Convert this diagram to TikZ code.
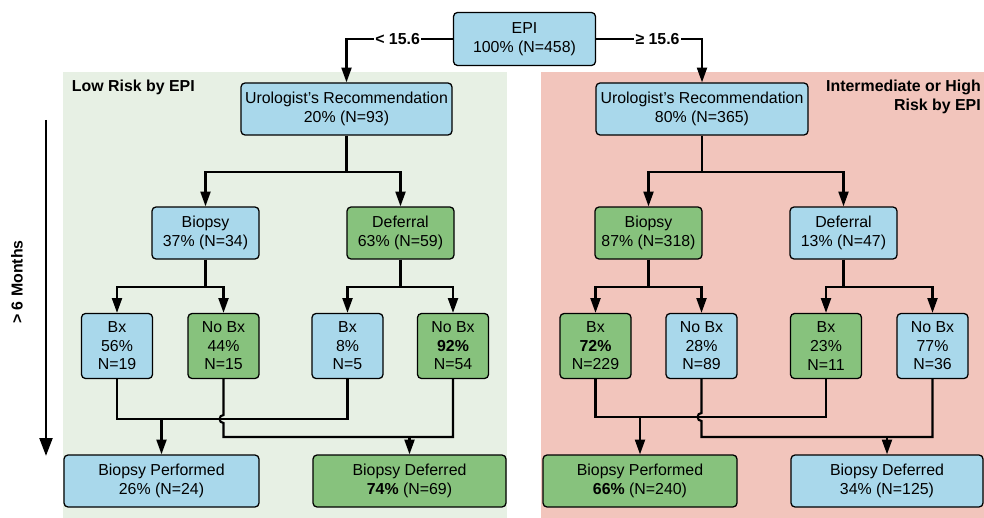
\documentclass[tikz,border=0pt]{standalone}
\usepackage{fontspec}
\setmainfont{Liberation Sans}
\usetikzlibrary{arrows.meta}
\usetikzlibrary{positioning}
\definecolor{box-blue}{RGB}{169, 216, 235}
\definecolor{box-green}{RGB}{135, 194, 125}
\definecolor{panel-green}{RGB}{231, 240, 228}
\definecolor{panel-red}{RGB}{242, 197, 188}
\newcommand{\pix}{0.025cm}
\newcommand{\boxfont}{\fontsize{11.3}{13.2}\selectfont}
\tikzset{
    box/.style={draw=black, line width=0.9pt, rounded corners=0.1cm, align=center, inner sep=0pt, font=\boxfont},
    blue box/.style={box, fill=box-blue},
    green box/.style={box, fill=box-green},
    boxsize/.style 2 args={minimum width=#1*\pix, minimum height=#2*\pix},
    link/.style={line width=1.5pt},
    arr/.style={link, -{Triangle[length=0.37cm, width=0.25cm]}},
    cutlabel/.style={fill=white, inner sep=1pt, font=\boxfont\bfseries},
}

\begin{document}
\begin{tikzpicture}[x=0.025cm, y=-0.025cm]
    \useasboundingbox (0, 0) rectangle (984, 518);
    \fill[panel-green] (63, 72) rectangle (507, 518);
    \fill[panel-red] (541, 72) rectangle (984, 518);
    \node[anchor=west, font=\boxfont\bfseries] (lowlabel) at (67, 87) {Low Risk by EPI};
    \node[anchor=north east, align=right, font=\boxfont\bfseries, inner sep=0pt] (highlabel) at (981, 80) {Intermediate or High\\Risk by EPI};

    % time axis
    \coordinate (ttop) at (46, 120);
    \coordinate (tbot) at (46, 456);
    \draw[line width=2pt, -{Triangle[length=0.45cm, width=0.32cm]}] (ttop) -- (tbot);
    \node[rotate=90, font=\boxfont\bfseries] (months) at (17, 282) {> 6 Months};

    % top
    \node[blue box, boxsize={142}{53}] (epi) at (524.5, 39) {EPI\\100\% (N=458)};
    \node[blue box, boxsize={211}{52}] (luro) at (346.5, 109) {Urologist's Recommendation\\20\% (N=93)};
    \node[blue box, boxsize={212}{52}] (ruro) at (702, 109) {Urologist's Recommendation\\80\% (N=365)};
    \draw[arr] (epi.west) -| node[pos=0.26, cutlabel] {< 15.6} (luro.north);
    \draw[arr] (epi.east) -| node[pos=0.29, cutlabel] {≥ 15.6} (ruro.north);

    % low risk
    \node[blue box, boxsize={107}{52}] (lbio) at (205.5, 233) {Biopsy\\37\% (N=34)};
    \node[green box, boxsize={107}{52}] (ldef) at (400.5, 233) {Deferral\\63\% (N=59)};
    \node[blue box, boxsize={71}{65}] (lbx1) at (117, 346) {Bx\\56\%\\N=19};
    \node[green box, boxsize={71}{65}] (lnobx1) at (223.5, 346) {No Bx\\44\%\\N=15};
    \node[blue box, boxsize={71}{65}] (lbx2) at (347.5, 346) {Bx\\8\%\\N=5};
    \node[green box, boxsize={71}{65}] (lnobx2) at (453, 346) {No Bx\\\textbf{92\%}\\N=54};
    \node[blue box, boxsize={195}{52}] (lperf) at (161.5, 481) {Biopsy Performed\\26\% (N=24)};
    \node[green box, boxsize={193}{52}] (ldefd) at (409.5, 481) {Biopsy Deferred\\\textbf{74\%} (N=69)};

    \coordinate (lsplit) at (346.5, 172);
    \draw[link] (luro.south) -- (lsplit);
    \draw[arr] (lsplit) -| (lbio.north);
    \draw[arr] (lsplit) -| (ldef.north);
    \coordinate (lbiosplit) at (205.5, 287);
    \draw[link] (lbio.south) -- (lbiosplit);
    \draw[arr] (lbiosplit) -| (lbx1.north);
    \draw[arr] (lbiosplit) -| (lnobx1.north);
    \coordinate (ldefsplit) at (400.5, 287);
    \draw[link] (ldef.south) -- (ldefsplit);
    \draw[arr] (ldefsplit) -| (lbx2.north);
    \draw[arr] (ldefsplit) -| (lnobx2.north);

    \coordinate (lperfjoin) at (161.5, 419);
    \coordinate (ldefdjoin) at (409.5, 437);
    \draw[link] (lbx1.south) |- (lperfjoin) -| (lbx2.south);
    \draw[arr] (lperfjoin) -- (lperf.north);
    \draw[link] (lnobx1.south) -- ([yshift=0.1cm]lnobx1.south |- lperfjoin) arc[start angle=90, end angle=270, radius=0.1cm] |- (ldefdjoin) -| (lnobx2.south);
    \draw[arr] (ldefdjoin) -- (ldefd.north);

    % intermediate or high risk
    \node[green box, boxsize={107}{52}] (rbio) at (648.5, 233) {Biopsy\\87\% (N=318)};
    \node[blue box, boxsize={107}{52}] (rdef) at (843.5, 233) {Deferral\\13\% (N=47)};
    \node[green box, boxsize={71}{65}] (rbx1) at (595.5, 346) {Bx\\\textbf{72\%}\\N=229};
    \node[blue box, boxsize={71}{65}] (rnobx1) at (701.5, 346) {No Bx\\28\%\\N=89};
    \node[green box, boxsize={71}{65}] (rbx2) at (826, 346) {Bx\\23\%\\N=11};
    \node[blue box, boxsize={71}{65}] (rnobx2) at (932.5, 346) {No Bx\\77\%\\N=36};
    \node[green box, boxsize={194}{52}] (rperf) at (640, 481) {Biopsy Performed\\\textbf{66\%} (N=240)};
    \node[blue box, boxsize={192}{52}] (rdefd) at (887, 481) {Biopsy Deferred\\34\% (N=125)};

    \coordinate (rsplit) at (702, 172);
    \draw[link] (ruro.south) -- (rsplit);
    \draw[arr] (rsplit) -| (rbio.north);
    \draw[arr] (rsplit) -| (rdef.north);
    \coordinate (rbiosplit) at (648.5, 287);
    \draw[link] (rbio.south) -- (rbiosplit);
    \draw[arr] (rbiosplit) -| (rbx1.north);
    \draw[arr] (rbiosplit) -| (rnobx1.north);
    \coordinate (rdefsplit) at (843.5, 287);
    \draw[link] (rdef.south) -- (rdefsplit);
    \draw[arr] (rdefsplit) -| (rbx2.north);
    \draw[arr] (rdefsplit) -| (rnobx2.north);

    \coordinate (rperfjoin) at (640, 417);
    \coordinate (rdefdjoin) at (887, 437);
    \draw[link] (rbx1.south) |- (rperfjoin) -| (rbx2.south);
    \draw[arr] (rperfjoin) -- (rperf.north);
    \draw[link] (rnobx1.south) -- ([yshift=0.1cm]rnobx1.south |- rperfjoin) arc[start angle=90, end angle=270, radius=0.1cm] |- (rdefdjoin) -| (rnobx2.south);
    \draw[arr] (rdefdjoin) -- (rdefd.north);
\end{tikzpicture}
\end{document}
